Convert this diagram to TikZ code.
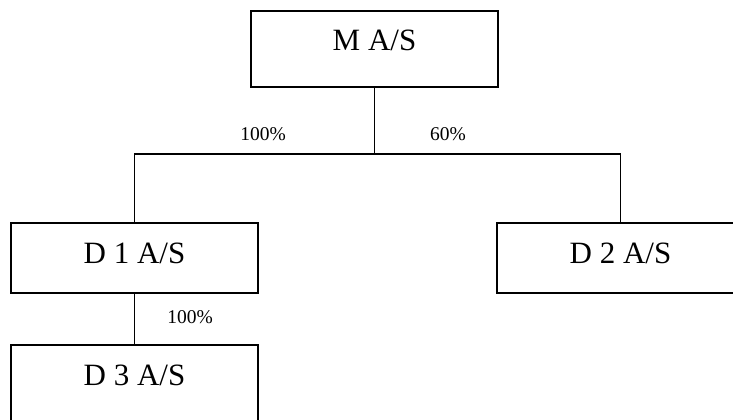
\documentclass[tikz,border=0pt]{standalone}
\usepackage{fontspec}
\setmainfont{Liberation Serif}
\begin{document}
\begin{tikzpicture}[x=1pt,y=-1pt,
  company/.style={draw, line width=1.5pt, inner sep=0pt, outer sep=0pt,
    minimum width=247pt, text height=40pt, anchor=north,
    font=\fontsize{31}{31}\selectfont},
  link/.style={line width=1.5pt},
  share/.style={inner sep=0pt, font=\fontsize{19.5}{19.5}\selectfont}]
\path[use as bounding box, clip] (0,0) rectangle (733,420);

% companies
\node[company, text depth=36pt] (m)  at (374.5,11)  {M A/S};
\node[company, text depth=30pt] (d1) at (134.5,223) {D 1 A/S};
\node[company, text depth=30pt] (d2) at (620.5,223) {D 2 A/S};
\node[company, text depth=45pt] (d3) at (134.5,345) {D 3 A/S};

% ownership lines
\coordinate (fork) at (374.5,154);
\draw[link] (m.south) -- (fork);
\draw[link] (fork) -| (d1.north);
\draw[link] (fork) -| (d2.north);
\draw[link] (d1.south) -- (d3.north);

% ownership shares
\node[share] (s1) at (263,134) {100\%};
\node[share] (s2) at (448,134) {60\%};
\node[share] (s3) at (190,317) {100\%};
\end{tikzpicture}
\end{document}
